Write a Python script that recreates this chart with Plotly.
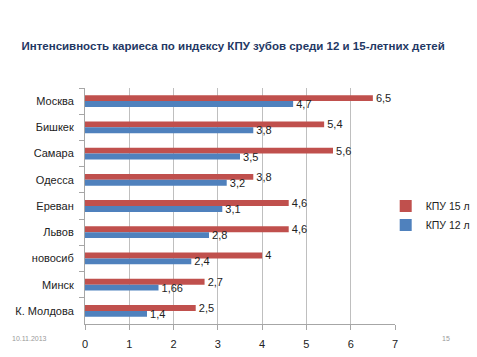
import plotly.graph_objects as go

categories = ["Москва", "Бишкек", "Самара", "Одесса", "Ереван", "Львов", "новосиб", "Минск", "К. Молдова"]
kpu15 = [6.5, 5.4, 5.6, 3.8, 4.6, 4.6, 4, 2.7, 2.5]
kpu12 = [4.7, 3.8, 3.5, 3.2, 3.1, 2.8, 2.4, 1.66, 1.4]
series_names = ["КПУ 15 л", "КПУ 12 л"]
x_ticks = [0, 1, 2, 3, 4, 5, 6, 7]

def fmt(v):
    return ("%g" % v).replace(".", ",")

font = "Liberation Sans, Arial, sans-serif"
fig = go.Figure()
for vals, name, color in [(kpu15, series_names[0], "#C0504D"), (kpu12, series_names[1], "#4F81BD")]:
    fig.add_trace(go.Bar(y=categories, x=vals, orientation="h", name=name,
                         marker=dict(color=color, line=dict(width=0)), text=[fmt(v) for v in vals],
                         texttemplate="\u00a0%{text}",
                         textposition="outside", cliponaxis=False, constraintext="none",
                         textfont=dict(size=11, color="#222", family=font)))

fig.update_layout(
    width=477, height=357,
    margin=dict(l=85, r=82, t=88, b=33, autoexpand=False),
    paper_bgcolor="white", plot_bgcolor="white",
    barmode="group", bargap=0.55, bargroupgap=0,
    font=dict(family=font, size=11, color="#222"),
    title=dict(text="<b>Интенсивность кариеса по индексу КПУ зубов среди 12 и 15-летних детей</b>",
               x=0.045, xanchor="left", y=0.872, yanchor="middle",
               font=dict(size=11.5, color="#1F3864", family=font)),
    legend=dict(x=0.97, y=0.46, xanchor="left", yanchor="middle",
                font=dict(size=10.5, color="#222"), itemwidth=30, tracegroupgap=2),
    showlegend=True,
)
fig.update_xaxes(range=[0, 7], tickvals=x_ticks, showgrid=True, gridcolor="#BFBFBF",
                 gridwidth=1, showline=True, linecolor="#A6A6A6", ticks="outside",
                 ticklen=5, tickcolor="#A6A6A6", zeroline=False, automargin=False,
                 ticklabelstandoff=5,
                 tickfont=dict(size=11, color="#222"))
fig.update_yaxes(autorange="reversed", showline=True, linecolor="#A6A6A6",
                 ticks="outside", tickson="boundaries", ticklen=5, tickcolor="#A6A6A6",
                 ticklabelstandoff=8,
                 tickfont=dict(size=11, color="#222"), showgrid=False, automargin=False)

fig.add_annotation(text="10.11.2013", xref="paper", yref="paper", x=-0.18, y=-0.06,
                   xanchor="center", yanchor="middle", showarrow=False,
                   font=dict(size=7, color="#999"))
fig.add_annotation(text="15", xref="paper", yref="paper", x=1.166, y=-0.06,
                   xanchor="center", yanchor="middle", showarrow=False,
                   font=dict(size=7, color="#999"))

fig.write_html("out.html", config={"displayModeBar": False},
               post_script="document.body.style.margin='0';")
